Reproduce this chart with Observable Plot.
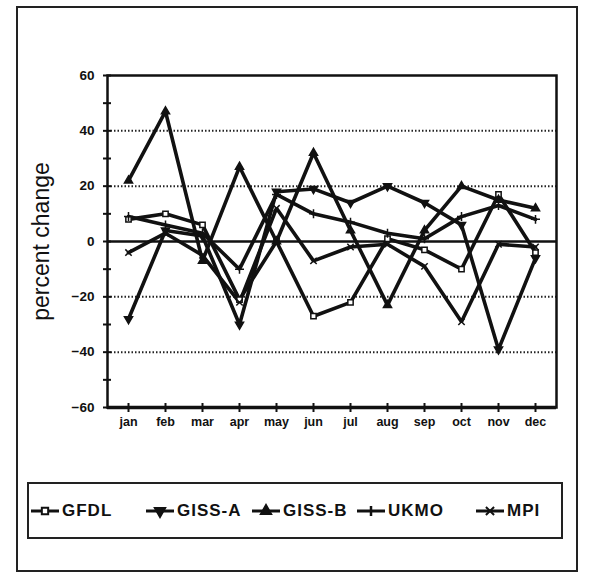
<!DOCTYPE html>
<html>
<head>
<meta charset="utf-8">
<script src="https://cdn.jsdelivr.net/npm/d3@7"></script>
<script src="https://cdn.jsdelivr.net/npm/@observablehq/plot@0.6"></script>
<style>
  html, body { margin: 0; padding: 0; background: #fff; }
  #fig { position: relative; width: 590px; height: 584px; overflow: hidden; font-family: "Liberation Sans", Arial, sans-serif; }
  #outer { position: absolute; left: 16px; top: 6px; width: 562px; height: 566px; border: 2px solid #222; box-sizing: border-box; }
  #chart { position: absolute; left: 0; top: 0; }
  #legend { position: absolute; left: 27px; top: 482px; width: 536px; height: 57px; border: 2.5px solid #222; box-sizing: border-box;
            font-weight: bold; font-size: 17px; letter-spacing: 1px; color: #111; }
  .item { position: absolute; top: 16px; display: flex; align-items: center; white-space: nowrap; }
  .item svg { margin-right: 2px; }
</style>
</head>
<body>
<div id="fig">
  <div id="outer"></div>
  <div id="chart"></div>
  <div id="legend"></div>
</div>
<script>
const months = ["jan","feb","mar","apr","may","jun","jul","aug","sep","oct","nov","dec"];
const seriesNames = ["GFDL","GISS-A","GISS-B","UKMO","MPI"];
const gfdl  = [8, 10, 6, -21, 0, -27, -22, 1, -3, -10, 17, -4];
const gissA = [-28, 4, 2, -30, 18, 19, 14, 20, 14, 6, -39, -6];
const gissB = [22, 47, -7, 27, 0, 32, 4, -23, 4, 20, 15, 12];
const ukmo  = [9, 6, 3, -10, 17, 10, 7, 3, 1, 9, 13, 8];
const mpi   = [-4, 3, -5, -22, 12, -7, -2, -1, -9, -29, -1, -2];
const yTickLabels = [-60, -40, -20, 0, 20, 40, 60];
const yMinorTicks = [-60, -50, -40, -30, -20, -10, 0, 10, 20, 30, 40, 50, 60];
const gridValues = [-40, -20, 20, 40];
const yTitle = "percent change";

const values = [gfdl, gissA, gissB, ukmo, mpi];
const symbolOf = {"GFDL": "square", "GISS-A": "triangle", "GISS-B": "triangle", "UKMO": "plus", "MPI": "times"};
const rotateOf = {"GFDL": 0, "GISS-A": 180, "GISS-B": 0, "UKMO": 0, "MPI": 0};
const fillOf = {"GFDL": "white", "GISS-A": "#111", "GISS-B": "#111", "UKMO": "none", "MPI": "none"};

const data = [];
seriesNames.forEach((s, i) => months.forEach((m, j) => data.push({series: s, month: m, value: values[i][j]})));

const font = '"Liberation Sans", Arial, sans-serif';

const plot = Plot.plot({
  width: 590,
  height: 450,
  marginLeft: 107,
  marginRight: 34,
  marginTop: 75,
  marginBottom: 43,
  style: {fontFamily: font, background: "none", color: "#111", overflow: "visible"},
  x: {type: "point", domain: months, padding: 0.5},
  y: {domain: [-60, 60]},
  symbol: {type: "identity"},
  marks: [
    Plot.ruleY(gridValues, {stroke: "#222", strokeWidth: 2, strokeDasharray: "1.5,2"}),
    Plot.ruleY([0], {stroke: "#111", strokeWidth: 2.5}),
    Plot.frame({stroke: "#111", strokeWidth: 2.5}),
    Plot.ruleY([-60], {stroke: "#111", strokeWidth: 3.5}),
    Plot.axisY({ticks: yMinorTicks, tickSize: 8, dx: 4, tickFormat: () => "", strokeWidth: 2, label: null}),
    Plot.axisY({ticks: yTickLabels, tickSize: 0, tickPadding: 13, fontSize: 13.5, fontWeight: "bold", label: null}),
    Plot.axisX({ticks: months, tickSize: 9, dy: -4, tickFormat: () => "", strokeWidth: 2, label: null}),
    Plot.axisX({ticks: months, tickSize: 0, tickPadding: 10, fontSize: 12.5, fontWeight: "bold", label: null}),
    Plot.text([yTitle], {frameAnchor: "left", rotate: -90, dx: -66, fontSize: 23, fill: "#111", textAnchor: "middle"}),
    Plot.line(data, {x: "month", y: "value", z: "series", stroke: "#111", strokeWidth: 3.6, strokeLinejoin: "miter"}),
    Plot.dot(data, {x: "month", y: "value", symbol: d => symbolOf[d.series], rotate: d => rotateOf[d.series],
                    fill: d => fillOf[d.series], stroke: "#111", strokeWidth: 1.5, r: 3})
  ]
});
document.getElementById("chart").appendChild(plot);

// legend
const legend = document.getElementById("legend");
const itemLeft = {"GFDL": 1, "GISS-A": 116, "GISS-B": 222, "UKMO": 327, "MPI": 446};
seriesNames.forEach(s => {
  const item = document.createElement("div");
  item.className = "item";
  item.style.left = itemLeft[s] + "px";
  const sym = d3.symbol(s === "GFDL" ? d3.symbolSquare : s === "MPI" ? d3.symbolTimes : d3.symbolTriangle, s === "GFDL" ? 40 : 45)();
  const rot = rotateOf[s];
  const fill = fillOf[s];
  const strokeSym = (s === "UKMO") ? `<line x1="15" y1="6" x2="15" y2="16" stroke="#111" stroke-width="2.5"/>`
                  : `<path d="${sym}" transform="translate(15,11) rotate(${rot})" fill="${fill}" stroke="#111" stroke-width="2"/>`;
  item.innerHTML = `<svg width="30" height="22"><line x1="1" y1="11" x2="29" y2="11" stroke="#111" stroke-width="3"/>${strokeSym}</svg><span>${s}</span>`;
  legend.appendChild(item);
});
</script>
</body>
</html>
